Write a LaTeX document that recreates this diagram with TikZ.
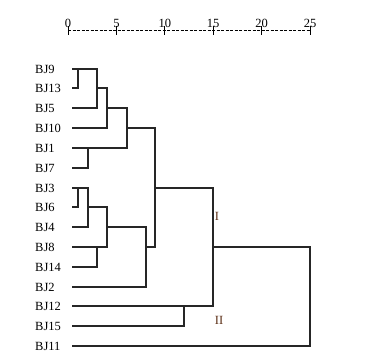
\documentclass[tikz,border=0pt]{standalone}
\usepackage{fontspec}
\setmainfont{Liberation Serif}
\begin{document}
\begin{tikzpicture}[x=1pt,y=-1pt,
  leaf/.style={anchor=west,inner sep=0pt,font=\fontsize{12.5}{12.5}\selectfont},
  tick/.style={anchor=south,inner sep=0pt,font=\fontsize{12.5}{12.5}\selectfont},
  grp/.style={inner sep=0pt,font=\fontsize{12.5}{12.5}\selectfont,text={rgb,255:red,90;green,45;blue,20}},
  den/.style={draw=black!85,line width=1.1pt},
  axisline/.style={draw=black,line width=1pt,dash pattern=on 3pt off 1.5pt}]
\useasboundingbox (0,0) rectangle (375,357);
% axis
\foreach \v [count=\i] in {0,5,10,15,20,25}{
  \coordinate (t\v) at ({68+\v*9.68},30);
  \node[tick] (n\v) at ({68+\v*9.68},27.5) {\v};
  \draw[black,line width=0.8pt] ({68+\v*9.68},26) -- ({68+\v*9.68},35);
}
\draw[axisline] (t0) -- (t25);
% leaves
\foreach \n/\y in {9/69,13/88,5/108,10/128,1/148,7/168,3/188,6/207,4/227,8/247,14/267,2/287,12/306,15/326,11/346}{
  \node[leaf] (L\n) at (35,\y) {BJ\n};
  \coordinate (s\n) at (72,\y);
}
% cluster I upper
\draw[den] (s9) -- (97,69) -- (97,108) -- (s5);
\draw[den] (78,69) |- (s13);
\draw[den] (97,88) -- (107,88) |- (s10);
\draw[den] (107,108) -- (127,108) |- (s1);
\draw[den] (s7) -| (88,148);
\draw[den] (127,128) -- (155,128) |- (146,247);
% cluster I lower
\draw[den] (s3) -- (88,188) |- (s4);
\draw[den] (78,188) |- (s6);
\draw[den] (88,207) -- (107,207) |- (s8);
\draw[den] (s14) -| (97,247);
\draw[den] (107,227) -- (146,227) |- (s2);
% top joins
\draw[den] (155,188) -- (213,188) |- (s12);
\draw[den] (s15) -| (184,306);
\draw[den] (213,247) -- (310,247) |- (s11);
% group labels
\node[grp] (gI) at (217,216) {I};
\node[grp] (gII) at (219,320) {II};
\end{tikzpicture}
\end{document}
